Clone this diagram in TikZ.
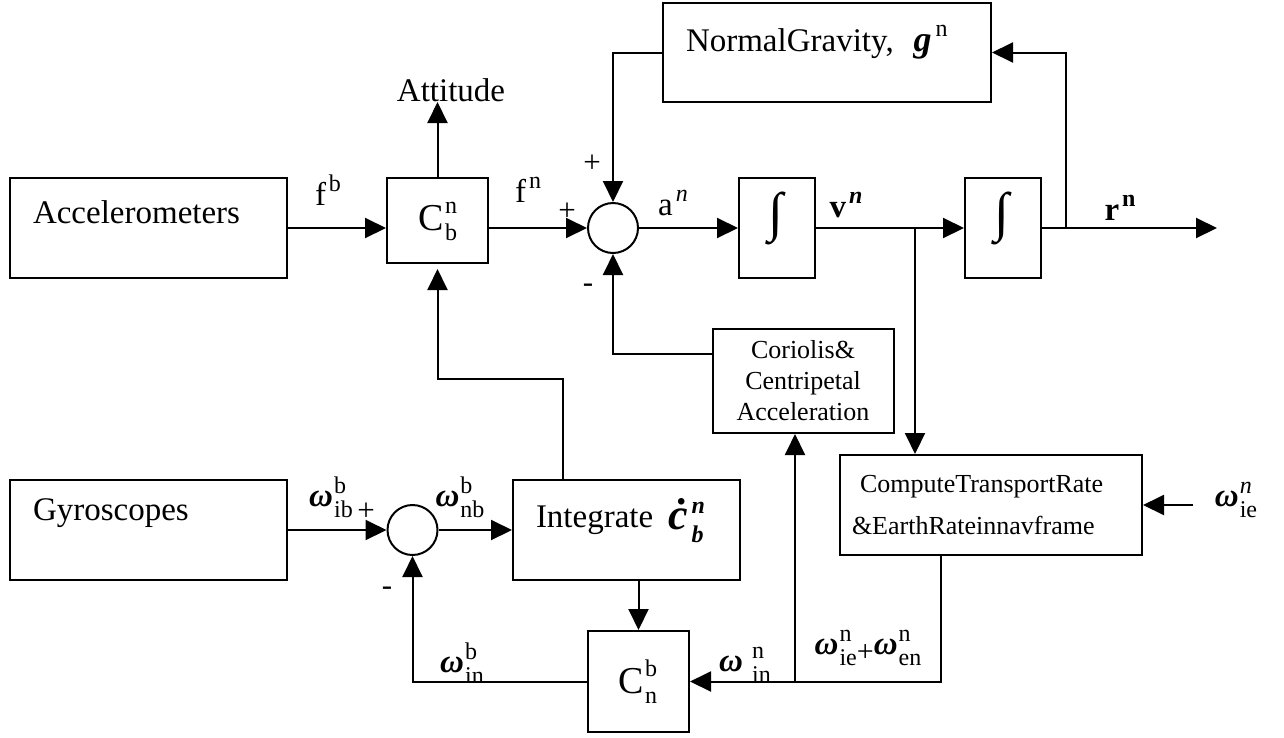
\documentclass[tikz,border=0pt]{standalone}
\usepackage{fontspec}
\setmainfont{Liberation Serif}
\usetikzlibrary{arrows.meta,calc}
\newcommand{\sml}{\fontsize{24}{24}\selectfont}
\newcommand{\supsubx}[5]{#1\kern1pt{\sml\rlap{\raisebox{#4}{#3}}\raisebox{-#5}{#2}}}
\newcommand{\supsub}[3]{\supsubx{#1}{#2}{#3}{13pt}{11pt}}
\newcommand{\supr}[2]{#1\kern3pt{\sml\raisebox{14pt}{#2}}}
\newcommand{\bigf}{\fontsize{33}{38}\selectfont}
\newcommand{\midf}{\fontsize{26}{31}\selectfont}
\newcommand{\bom}{{\bfseries\itshape ω}}
\begin{document}
\begin{tikzpicture}[x=1pt,y=-1pt,line width=2pt,
  box/.style={draw,line width=2pt,inner sep=0pt},
  sumj/.style={draw,circle,minimum size=50pt,inner sep=0pt,line width=2pt},
  arr/.style={-{Triangle[length=21pt,width=20pt]},line width=2pt},
  txt/.style={inner sep=0pt,font=\bigf},
  stxt/.style={inner sep=0pt,font=\midf},
  sgn/.style={inner sep=0pt,font=\fontsize{31}{31}\selectfont}]
\useasboundingbox (0,0) rectangle (1284,737);

% blocks
\node[box,minimum width=277pt,minimum height=100pt] (acc) at (148.5,228) {};
\node[box,minimum width=277pt,minimum height=100pt] (gyro) at (148.5,530) {};
\node[box,minimum width=101pt,minimum height=85pt] (cbn) at (437.5,220.5) {};
\node[box,minimum width=328pt,minimum height=99pt] (grav) at (827,52.5) {};
\node[box,minimum width=76pt,minimum height=100pt] (int1) at (777,228) {};
\node[box,minimum width=76pt,minimum height=100pt] (int2) at (1003,228) {};
\node[box,minimum width=181pt,minimum height=104pt] (cor) at (803.5,381) {};
\node[box,minimum width=302pt,minimum height=100pt] (comp) at (991,505) {};
\node[box,minimum width=227pt,minimum height=100pt] (integ) at (626.5,530) {};
\node[box,minimum width=101pt,minimum height=101pt] (cnb) at (638.5,681.5) {};
\node[sumj] (sum1) at (613,228) {};
\node[sumj] (sum2) at (412.5,530) {};

% block texts
\node[txt,anchor=west] (accT) at (32,212) {Accelerometers};
\node[txt,anchor=west] (gyroT) at (32,513) {Gyroscopes};
\node[txt,anchor=west] (gravT) at (685,42) {NormalGravity,\hspace{20pt}{\fontsize{36}{36}\selectfont\bfseries\itshape g}\kern4pt{\sml\raisebox{15pt}{n}}};
\node[txt] (att) at (451,90) {Attitude};
\node[txt] (cbnT) at (438,221) {\supsubx{\fontsize{38}{38}\selectfont C}{b}{n}{17pt}{10pt}};
\node[txt] (cnbT) at (638,682) {\supsubx{\fontsize{38}{38}\selectfont C}{n}{b}{17pt}{10pt}};
\node[inner sep=0pt,font=\fontsize{54}{54}\selectfont] (int1T) at (776,218) {∫};
\node[inner sep=0pt,font=\fontsize{54}{54}\selectfont] (int2T) at (1002,218) {∫};
\node[stxt,align=center] (corT) at (803,381) {Coriolis\&\\Centripetal\\Acceleration};
\node[stxt,anchor=west] (compT1) at (859,487) {ComputeTransportRate};
\node[stxt,anchor=west] (compT2) at (851,525) {\&EarthRateinnavframe};
\node[txt,anchor=west] (integT) at (535,520) {Integrate};
\node[txt,anchor=west] (cdot) at (667,521) {\supsubx{\fontsize{44}{44}\selectfont\bfseries\itshape ċ\kern3pt}{\itshape b}{\itshape n}{16pt}{13pt}};

% signal labels
\node[txt] (fb) at (328,190) {\supr{f}{b}};
\node[txt] (fn) at (528,190) {\supr{f}{n}};
\node[txt] (an) at (673,203) {\supr{a}{\itshape n}};
\node[txt] (vn) at (846,205) {\supr{\bfseries v}{\itshape n}};
\node[txt] (rn) at (1120,208) {\supr{\bfseries r}{\bfseries n}};
\node[sgn] (p1) at (567,212) {+};
\node[sgn] (p2) at (592,164) {+};
\node[sgn] (m1) at (588,288) {-};
\node[sgn] (p3) at (366,512) {+};
\node[sgn] (m2) at (387,591) {-};
\node[txt] (wib) at (331,497) {\supsub{\bom}{ib}{b}};
\node[txt] (wnb) at (460,497) {\supsub{\bom}{nb}{b}};
\node[txt] (winb) at (462,663) {\supsub{\bom}{in}{b}};
\node[txt] (winn) at (745,665) {\supsub{\bom\hspace{8pt}}{in}{n}};
\node[txt] (wsum) at (868,648) {\supsub{\bom}{ie}{n}{\fontsize{30}{30}\selectfont\raisebox{-7pt}{+}}\supsub{\bom}{en}{n}};
\node[txt] (wie) at (1236,500) {\supsub{\bom}{ie}{\itshape n}};

% junctions
\coordinate (attend) at ($(cbn.north)+(0,-75)$);
\coordinate (rend) at (1217,228);
\coordinate (rb) at (1066,228);
\coordinate (vb) at (915,228);
\coordinate (corin) at (713,354);
\coordinate (cb) at (941,681.5);
\coordinate (wj) at (795,681.5);
\coordinate (ib) at (563,379);
\coordinate (wiein) at (1193,505);

% connectors
\draw[arr] (acc.east) -- (cbn.west |- acc.east);
\draw[arr] (cbn.east |- sum1.west) -- (sum1.west);
\draw[arr] (cbn.north) -- (attend);
\draw[arr] (grav.west) -| (sum1.north);
\draw[arr] (sum1.east) -- (int1.west);
\draw[arr] (int1.east) -- (int2.west);
\draw[arr] (int2.east) -- (rend);
\draw[arr] (rb) |- (grav.east);
\draw[arr] (vb) -- (vb |- comp.north);
\draw[arr] (corin) -| (sum1.south);
\draw[arr] (cb |- comp.south) |- (cnb.east);
\draw[arr] (wj) -- (wj |- cor.south);
\draw[arr] (cnb.west) -| (sum2.south);
\draw[arr] (integ.south -| cnb.north) -- (cnb.north);
\draw[arr] (gyro.east) -- (sum2.west);
\draw[arr] (sum2.east) -- (integ.west);
\draw[arr,shorten >=5pt] (ib |- integ.north) -- (ib) -| (cbn.south);
\draw[arr] (wiein) -- (comp.east);
\end{tikzpicture}
\end{document}
